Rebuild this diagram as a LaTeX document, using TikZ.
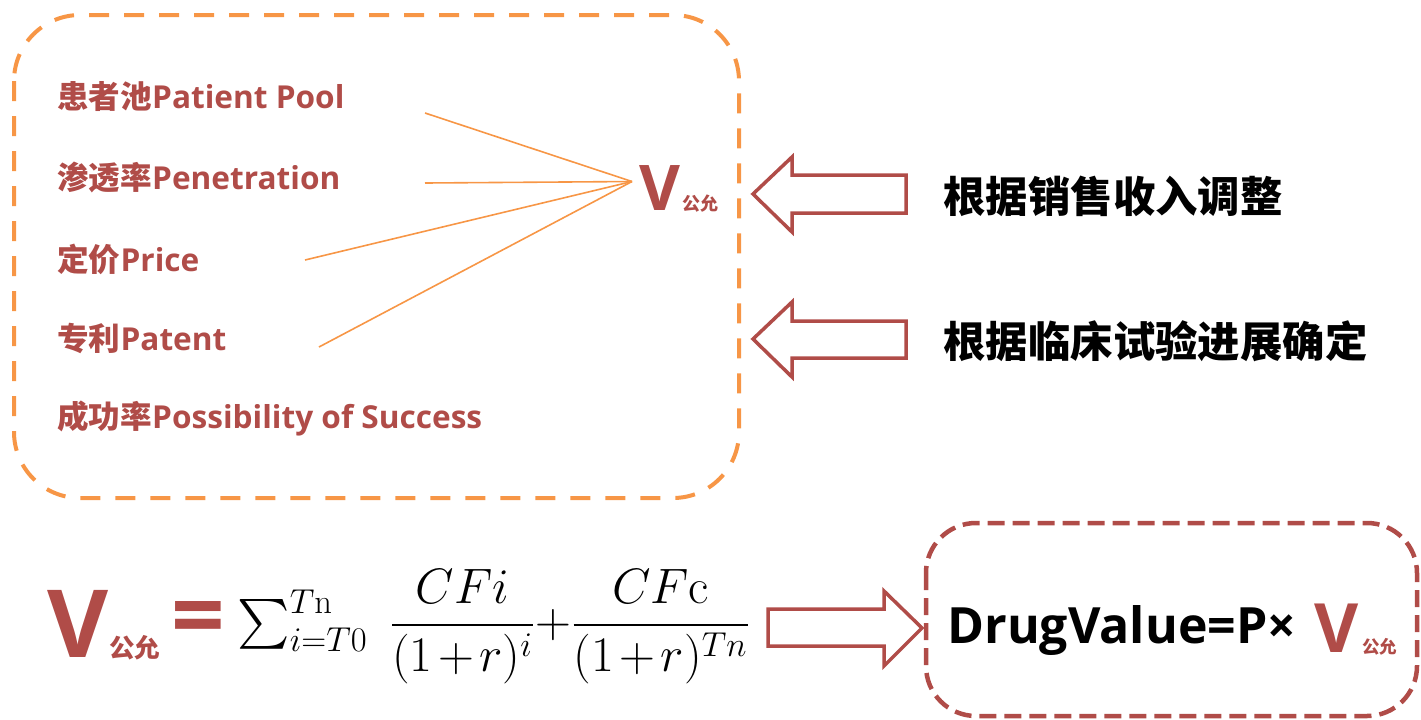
\documentclass[tikz,border=0pt]{standalone}
\usepackage{amsmath}
\usepackage[no-math]{fontspec}
\setmainfont{Open Sans}
\newfontfamily\cjk{Noto Sans CJK SC}
\definecolor{brick}{RGB}{176,76,72}
\definecolor{peach}{RGB}{247,150,70}
\newcommand{\tplus}{\mkern2mu{+}\mkern2mu}

\begin{document}
\begin{tikzpicture}[x=0.5pt,y=-0.5pt]
	\tikzstyle{item}=[anchor=west,inner sep=0,text=brick,font=\bfseries\fontsize{15.8}{18}\selectfont]
	\tikzstyle{note}=[anchor=west,inner sep=0,font=\cjk\bfseries\fontsize{21.2}{24}\selectfont]
	\tikzstyle{ray}=[draw=peach,line width=0.8pt]
	\tikzstyle{hollow}=[draw=brick,line width=1.75pt,line join=miter]
	\tikzstyle{bigv}=[anchor=base west,inner sep=0,text=brick,font=\bfseries]
	\useasboundingbox (0,0) rectangle (1421,719);
	% dashed frames
	\draw[peach,line width=2pt,dash pattern=on 10pt off 7.5pt,rounded corners=33pt] (14,15) rectangle (739,498);
	\draw[brick,line width=2.25pt,dash pattern=on 8.5pt off 4pt,rounded corners=25pt] (926,523) rectangle (1417,716);
	% factors
	\node[item] (pool) at (57,97) {{\cjk 患者池}Patient Pool};
	\node[item] (pen) at (57,178) {{\cjk 渗透率}Penetration};
	\node[item] (price) at (57,259) {{\cjk 定价}Price};
	\node[item] (patent) at (57,338) {{\cjk 专利}Patent};
	\node[item] (pos) at (57,419) {{\cjk 成功率}Possibility of Success};
	\node[bigv,font=\bfseries\fontsize{31.5}{32}\selectfont] (vtop) at (639,210) {V};
	\node[bigv,font=\cjk\bfseries\fontsize{9}{10}\selectfont] (vtopsub) at (682,210) {公允};
	\coordinate (p1) at (425,113);
	\coordinate (p2) at (425,183);
	\coordinate (p3) at (305,260);
	\coordinate (p4) at (319,347);
	\foreach \p in {p1,p2,p3,p4}
		\draw[ray] (\p) -- ([xshift=-3.5pt,yshift=3pt]vtop.west);
	% hints
	\draw[hollow] (906,175) -- (792,175) -- (792,157) -- (753,194) -- (792,232) -- (792,213) -- (906,213) -- cycle;
	\draw[hollow] (906,321) -- (792,321) -- (792,302) -- (753,339) -- (792,377) -- (792,358) -- (906,358) -- cycle;
	\node[note] (sales) at (943,196) {根据销售收入调整};
	\node[note] (trial) at (943,341) {根据临床试验进展确定};
	% formula
	\node[bigv,font=\bfseries\fontsize{47}{48}\selectfont] (vbot) at (47,657) {V};
	\node[bigv,font=\cjk\bfseries\fontsize{12.75}{14}\selectfont] (vbotsub) at (109,657) {公允};
	\node[inner sep=0,text=brick,font=\bfseries\fontsize{47}{48}\selectfont] (eq) at (198,625) {=};
	\node[anchor=base west,inner sep=0,font=\fontsize{25}{27}\selectfont] (sum) at (237,637)
		{$\textstyle\sum_{i=T0}^{T\mathrm{n}}\displaystyle\;\frac{CFi}{(1\tplus r)^{i}}{+}\frac{CF\mathrm{c}}{(1\tplus r)^{Tn}}$};
	\draw[hollow] (768,609) -- (884,609) -- (884,591) -- (922,628) -- (884,666) -- (884,646) -- (768,646) -- cycle;
	% result
	\node[anchor=base west,inner sep=0,font=\bfseries\fontsize{25}{26}\selectfont] (drug) at (947,643) {DrugValue=P×};
	\node[bigv,font=\bfseries\fontsize{34}{35}\selectfont] (vres) at (1314,652) {V};
	\node[bigv,font=\cjk\bfseries\fontsize{8.75}{10}\selectfont] (vressub) at (1362,653) {公允};
\end{tikzpicture}
\end{document}
